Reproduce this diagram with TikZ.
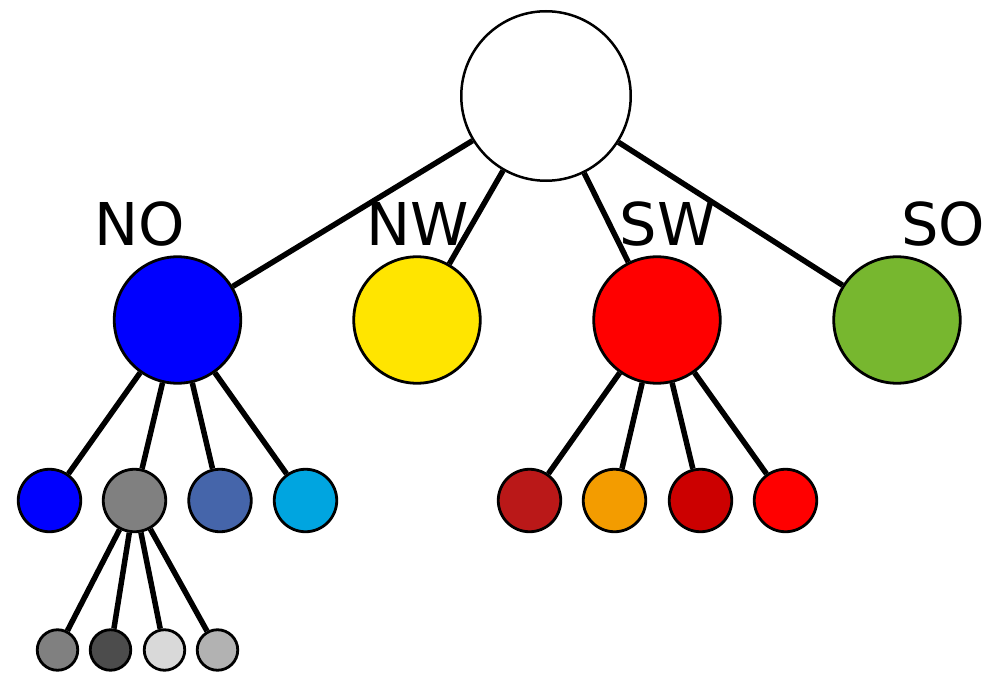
\documentclass[tikz,border=0pt]{standalone}
\usepackage{fontspec}
\setmainfont{DejaVu Sans}
\definecolor{qyellow}{HTML}{FFE500}
\definecolor{qgreen}{HTML}{77B72F}
\definecolor{qsteel}{HTML}{4565AA}
\definecolor{qcyan}{HTML}{00A5E0}
\definecolor{qbrick}{HTML}{BA1818}
\definecolor{qorange}{HTML}{F39C00}
\definecolor{qdarkred}{HTML}{CC0000}
\begin{document}
\begin{tikzpicture}[x=1pt, y=-1pt, line width=5.5pt,
    knot/.style={circle, draw, line width=2.8pt, inner sep=0pt},
    rootknot/.style={knot, minimum size=169.5pt, line width=2.5pt},
    quadknot/.style={knot, minimum size=126.5pt},
    subknot/.style={knot, minimum size=62.5pt},
    leafknot/.style={knot, minimum size=40.5pt},
    lbl/.style={anchor=base, inner sep=0pt, font=\fontsize{59}{59}\selectfont}]
\useasboundingbox (0,0) rectangle (994,674);
% root and the four quadrants
\node[rootknot, fill=white] (root) at (546,96) {};
\node[quadknot, fill=blue] (NO) at (177.5,320) {};
\node[quadknot, fill=qyellow] (NW) at (417,320) {};
\node[quadknot, fill=red] (SW) at (657,320) {};
\node[quadknot, fill=qgreen] (SO) at (897,320) {};
\node[lbl] (lNO) at (139.5,245) {NO};
\node[lbl] (lNW) at (418,245) {NW};
\node[lbl] (lSW) at (667.5,245) {SW};
\node[lbl] (lSO) at (943,245) {SO};
% children of NO
\node[subknot, fill=blue] (NO1) at (49.5,500.5) {};
\node[subknot, fill=gray] (NO2) at (134.5,500.5) {};
\node[subknot, fill=qsteel] (NO3) at (220,500.5) {};
\node[subknot, fill=qcyan] (NO4) at (305.5,500.5) {};
% children of SW
\node[subknot, fill=qbrick] (SW1) at (529.5,500.5) {};
\node[subknot, fill=qorange] (SW2) at (614.5,500.5) {};
\node[subknot, fill=qdarkred] (SW3) at (700.5,500.5) {};
\node[subknot, fill=red] (SW4) at (785.5,500.5) {};
% children of NO2
\node[leafknot, fill=gray] (G1) at (57.5,650) {};
\node[leafknot, fill=black!70] (G2) at (110.5,650) {};
\node[leafknot, fill=black!15] (G3) at (164.5,650) {};
\node[leafknot, fill=black!30] (G4) at (217.5,650) {};
% edges
\foreach \q in {NO,NW,SW,SO} \draw (root) -- (\q);
\foreach \c in {1,2,3,4} {
    \draw (NO) -- (NO\c);
    \draw (SW) -- (SW\c);
    \draw (NO2) -- (G\c);
}
\end{tikzpicture}
\end{document}
